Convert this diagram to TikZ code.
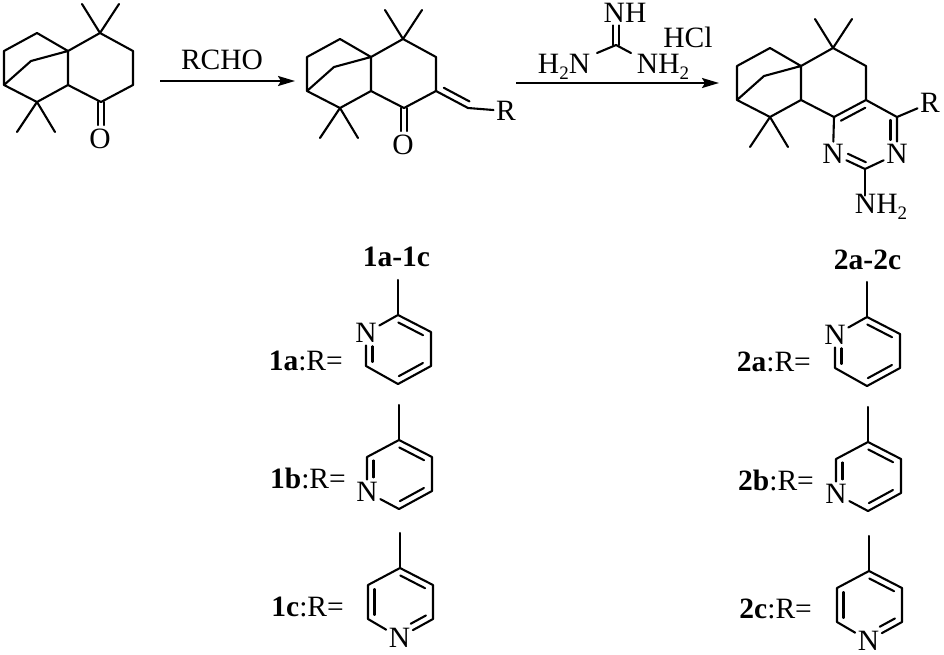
\documentclass[tikz,border=0pt]{standalone}
\usepackage{fontspec}
\setmainfont{Liberation Serif}
\usetikzlibrary{calc,arrows.meta}
\tikzset{
  bond/.style={line width=2.1pt,line cap=round,line join=round,black},
  atom/.style={inner sep=2.5pt,text=black},
  txt/.style={inner sep=0pt,text=black},
  rxn/.style={line width=2.1pt,-{Stealth[length=17pt,width=10pt,inset=3pt]}}
}
\newcommand\subtwo{\raisebox{-0.22em}{\fontsize{19}{20}\selectfont 2}}
% inner line of a double bond: from a to b, on the right-hand side on screen
\newcommand\innerbond[4]{\draw[bond] ($(#1)!#3!(#2)!6.5pt!-90:(#2)$) -- ($(#1)!#4!(#2)!6.5pt!-90:(#2)$);}
% tricyclic core
\newcommand\core[3]{%
  \begin{scope}[shift={(#2,#3)}]
    \coordinate (#1a1) at (4,51);
    \coordinate (#1a2) at (37,33);
    \coordinate (#1a3) at (68,51);
    \coordinate (#1c4) at (100,33);
    \coordinate (#1c5) at (133,51);
    \coordinate (#1c6) at (133,85);
    \coordinate (#1c7) at (101,102);
    \coordinate (#1a5) at (68,85);
    \coordinate (#1a6) at (37,102);
    \coordinate (#1a7) at (4,85);
    \coordinate (#1b) at (31,61);
    \coordinate (#1m1) at (82,4);
    \coordinate (#1m2) at (119,4);
    \coordinate (#1m3) at (17,132);
    \coordinate (#1m4) at (55,132);
  \end{scope}
  \draw[bond] (#1a7) -- (#1a1) -- (#1a2) -- (#1a3) -- (#1c4) -- (#1c5) -- (#1c6) -- (#1c7) -- (#1a5) -- (#1a6) -- (#1a7) -- (#1b) -- (#1a3) -- (#1a5);
  \draw[bond] (#1m1) -- (#1c4) -- (#1m2);
  \draw[bond] (#1m3) -- (#1a6) -- (#1m4);
}
% carbonyl on the core
\newcommand\carbonyl[1]{%
  \coordinate (#1ce) at ($(#1c7)+(0,23)$);
  \node[txt] (#1o) at ($(#1c7)+(-1,37)$) {O};
  \draw[bond] ([xshift=-3pt]#1c7) -- ([xshift=-3pt]#1ce);
  \draw[bond] ([xshift=3pt]#1c7) -- ([xshift=3pt]#1ce);
}
% pyridine ring coordinates
\newcommand\ringpts[3]{%
  \begin{scope}[shift={(#2,#3)}]
    \coordinate (#1p) at (0,0);
    \coordinate (#1me) at (0,-35);
    \coordinate (#1rt) at (33,17);
    \coordinate (#1rb) at (33,51);
    \coordinate (#1bt) at (0,69);
    \coordinate (#1lb) at (-32,51);
    \coordinate (#1lt) at (-32,17);
  \end{scope}
  \draw[bond] (#1me) -- (#1p);
}
\newcommand\pyra[3]{\ringpts{#1}{#2}{#3}
  \node[atom] (#1n) at ($(#1p)+(-32,18)$) {N};
  \draw[bond] (#1n) -- (#1p) -- (#1rt) -- (#1rb) -- (#1bt) -- (#1lb) -- (#1n);
  \innerbond{#1p}{#1rt}{.1}{.85}
  \innerbond{#1rb}{#1bt}{.15}{.88}
  \innerbond{#1lb}{#1lt}{.12}{.58}
}
\newcommand\pyrb[3]{\ringpts{#1}{#2}{#3}
  \node[atom] (#1n) at ($(#1p)+(-32,52)$) {N};
  \draw[bond] (#1n) -- (#1lt) -- (#1p) -- (#1rt) -- (#1rb) -- (#1bt) -- (#1n);
  \innerbond{#1p}{#1rt}{.1}{.85}
  \innerbond{#1rb}{#1bt}{.15}{.88}
  \innerbond{#1lb}{#1lt}{.4}{.9}
}
\newcommand\pyrc[3]{\ringpts{#1}{#2}{#3}
  \node[atom] (#1n) at ($(#1p)+(-0.5,69.5)$) {N};
  \draw[bond] (#1n) -- (#1lb) -- (#1lt) -- (#1p) -- (#1rt) -- (#1rb) -- (#1n);
  \innerbond{#1p}{#1rt}{.1}{.85}
  \innerbond{#1rb}{#1bt}{.12}{.58}
  \innerbond{#1lb}{#1lt}{.12}{.88}
}
\begin{document}
\begin{tikzpicture}[x=1pt,y=-1pt,font=\fontsize{29.5}{32}\selectfont]
\useasboundingbox (0,0) rectangle (944,654);

% starting ketone
\core{s}{0}{0}
\carbonyl{s}

% first arrow
\coordinate (ar1s) at (160,81);
\coordinate (ar1e) at (295,81);
\draw[rxn] (ar1s) -- (ar1e);
\node[txt] (rcho) at (222,60) {RCHO};

% enone
\core{e}{303}{6}
\carbonyl{e}
\coordinate (ev) at (468,108);
\node[atom] (er) at (506,111) {R};
\draw[bond] (ec6) -- (ev) -- (er);
\innerbond{ev}{ec6}{.05}{.85}

% second arrow and guanidine
\coordinate (ar2s) at (516,83);
\coordinate (ar2e) at (719,83);
\draw[rxn] (ar2s) -- (ar2e);
\node[atom] (gnh) at (625,13) {NH};
\node[txt] (hcl) at (688,37) {HCl};
\node[txt,anchor=base] (gl) at (564,73) {H\subtwo N};
\node[txt,anchor=base] (gr) at (663,73) {NH\subtwo};
\coordinate (gc) at (616,45);
\coordinate (gle) at (597,53);
\coordinate (gre) at (631,53);
\draw[bond] ([xshift=-3pt]gc) -- ([xshift=-3pt]gc |- gnh.south);
\draw[bond] ([xshift=3pt]gc) -- ([xshift=3pt]gc |- gnh.south);
\draw[bond] (gle) -- (gc) -- (gre);

% aminopyrimidine product
\core{t}{733}{15}
\coordinate (tcr) at (897,117);
\coordinate (tc2) at (865,169);
\node[atom] (tnr) at (897,154) {N};
\node[atom] (tnl) at (833,154) {N};
\node[atom] (tr) at (930,103) {R};
\node[txt,anchor=base] (tnh) at (881,213) {NH\subtwo};
\draw[bond] (tc6) -- (tcr) -- (tnr) -- (tc2) -- (tnl) -- (tc7);
\draw[bond] (tcr) -- (tr);
\draw[bond] (tc2) -- ([yshift=-2pt]tc2 |- tnh.north);
\innerbond{tc7}{tc6}{.12}{.88}
\innerbond{tcr}{tnr}{.08}{.62}
\innerbond{tc2}{tnl}{.06}{.62}

% series labels
\node[txt] (h1) at (396.5,257) {\textbf{1a-1c}};
\node[txt] (h2) at (867.5,260) {\textbf{2a-2c}};

\node[txt,anchor=east] (l1a) at (343,360.5) {\textbf{1a}:R=};
\node[txt,anchor=east] (l1b) at (346,478.5) {\textbf{1b}:R=};
\node[txt,anchor=east] (l1c) at (344,606.5) {\textbf{1c}:R=};
\node[txt,anchor=east] (l2a) at (811,361.5) {\textbf{2a}:R=};
\node[txt,anchor=east] (l2b) at (814,480.5) {\textbf{2b}:R=};
\node[txt,anchor=east] (l2c) at (812,608.5) {\textbf{2c}:R=};

\pyra{pa}{398}{315}
\pyrb{pb}{399}{440}
\pyrc{pc}{400}{568}
\pyra{qa}{867}{317}
\pyrb{qb}{868}{442}
\pyrc{qc}{869}{571}
\end{tikzpicture}
\end{document}
